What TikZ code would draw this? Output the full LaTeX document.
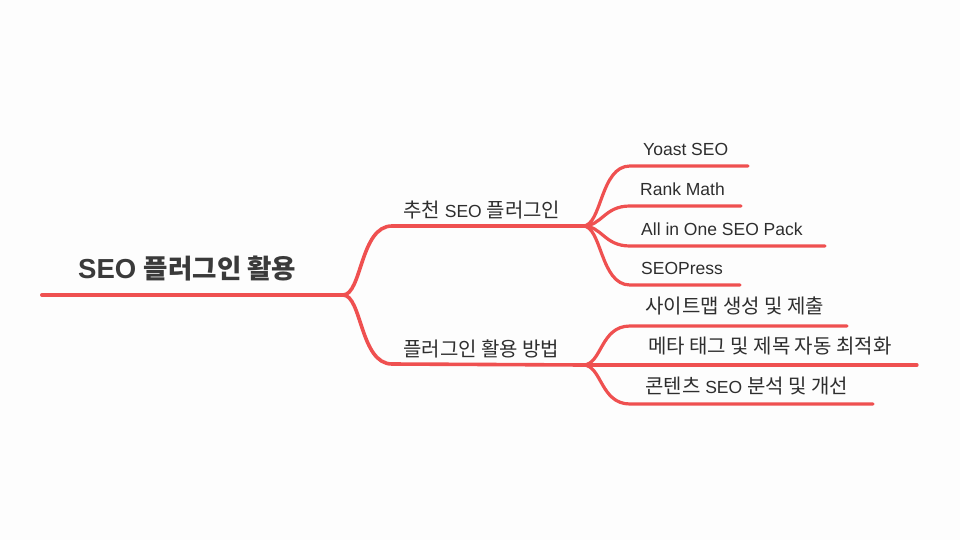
\documentclass[tikz,border=0pt]{standalone}
\usepackage{fontspec}
\setmainfont{Liberation Sans}
\newfontfamily\kr{Noto Sans CJK KR}
\definecolor{lnred}{HTML}{EF5050}
\definecolor{txt}{HTML}{2E2E2E}
\definecolor{roottxt}{HTML}{3A3A3A}
\definecolor{bgc}{HTML}{FDFDFD}
\tikzset{
  rootline/.style={draw=lnred,line width=4pt,line cap=round},
  brline/.style={draw=lnred,line width=3.6pt,line cap=round},
  leafline/.style={draw=lnred,line width=3.2pt,line cap=round},
  roottext/.style={anchor=base west,inner sep=0pt,text=roottxt,font=\fontsize{27.5}{30}\selectfont\bfseries},
  brtext/.style={anchor=base west,inner sep=0pt,text=txt,font=\fontsize{17.5}{21}\selectfont},
  leaftext/.style={anchor=base west,inner sep=0pt,text=txt,font=\fontsize{17.5}{21}\selectfont},
}
\newcommand{\K}[1]{{\kr\fontsize{20}{22}\selectfont #1}}
\newcommand{\KR}[1]{{\kr\bfseries\fontsize{26.5}{30}\selectfont #1}}
\begin{document}
\begin{tikzpicture}[x=1pt,y=-1pt]
\useasboundingbox (0,0) rectangle (960,540);
\fill[bgc] (0,0) rectangle (960,540);
% coordinates
\coordinate (rootL) at (42,295);
\coordinate (rootJ) at (343,295);
\coordinate (b1s) at (392,226);
\coordinate (b1J) at (583,226);
\coordinate (b2s) at (392,364);
\coordinate (b2J) at (583,365);
% leaf line ends
\coordinate (l1s) at (630,166); \coordinate (l1e) at (748,166);
\coordinate (l2s) at (630,206); \coordinate (l2e) at (741,206);
\coordinate (l3s) at (630,246); \coordinate (l3e) at (825,246);
\coordinate (l4s) at (630,285); \coordinate (l4e) at (740,285);
\coordinate (m1s) at (630,326); \coordinate (m1e) at (847,326);
\coordinate (m2e) at (917,365);
\coordinate (m3s) at (630,404); \coordinate (m3e) at (873,404);
% texts
\node[roottext] (root) at (78,278) {SEO \KR{플러그인 활용}};
\node[brtext] (br1) at (403,217) {\K{추천} SEO \K{플러그인}};
\node[brtext] (br2) at (403,356) {\K{플러그인 활용 방법}};
\node[leaftext] (lf1) at (643,156) {Yoast SEO};
\node[leaftext] (lf2) at (640,195) {Rank Math};
\node[leaftext] (lf3) at (641,235) {All in One SEO Pack};
\node[leaftext] (lf4) at (641,274) {SEOPress};
\node[leaftext] (mf1) at (645,313) {\K{사이트맵 생성 및 제출}};
\node[leaftext] (mf2) at (648,353) {\K{메타 태그 및 제목 자동 최적화}};
\node[leaftext] (mf3) at (645,393) {\K{콘텐츠} SEO \K{분석 및 개선}};
% root
\draw[rootline] (rootL) -- (rootJ);
\draw[brline] (rootJ) .. controls (362,295) and (360,226) .. (b1s) -- (b1J);
\draw[brline] (rootJ) .. controls (362,295) and (360,364) .. (b2s) -- (b2J);
% leaves group 1
\draw[leafline] (b1J) .. controls (602,226) and (600,166) .. (l1s) -- (l1e);
\draw[leafline] (b1J) .. controls (602,226) and (604,206) .. (l2s) -- (l2e);
\draw[leafline] (b1J) .. controls (602,226) and (604,246) .. (l3s) -- (l3e);
\draw[leafline] (b1J) .. controls (602,226) and (600,285) .. (l4s) -- (l4e);
% leaves group 2
\draw[leafline] (b2J) .. controls (602,365) and (600,326) .. (m1s) -- (m1e);
\draw[leafline] (b2J) -- (m2e);
\draw[leafline] (b2J) .. controls (602,365) and (600,404) .. (m3s) -- (m3e);
\end{tikzpicture}
\end{document}
